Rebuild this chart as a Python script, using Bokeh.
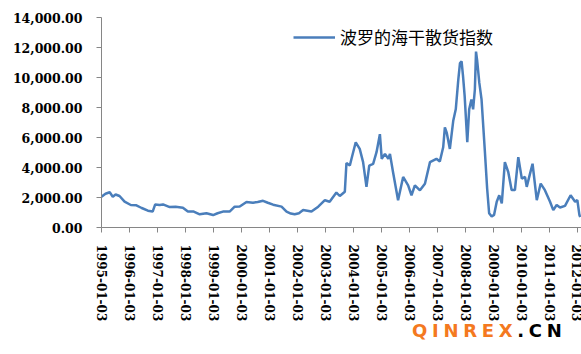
import pandas as pd
from bokeh.plotting import figure
from bokeh.layouts import column
from bokeh.models import (FixedTicker, NumeralTickFormatter, DatetimeTickFormatter,
                          Legend, LegendItem, Range1d, Div)
from bokeh.embed import file_html
from bokeh.resources import INLINE

series_name = "波罗的海干散货指数"

dates = [
    "1995-01-03", "1995-02-24", "1995-04-20", "1995-05-30", "1995-07-06", "1995-08-26",
    "1995-10-31", "1996-01-20", "1996-04-02", "1996-06-10", "1996-08-30", "1996-10-31",
    "1996-12-03", "1997-01-30", "1997-03-15", "1997-06-10", "1997-08-26", "1997-11-29",
    "1998-02-02", "1998-04-20", "1998-07-06", "1998-10-02", "1998-12-28", "1999-02-24",
    "1999-05-05", "1999-07-31", "1999-10-05", "1999-12-10", "2000-03-07", "2000-05-30",
    "2000-07-31", "2000-10-09", "2000-12-10", "2001-02-17", "2001-06-07", "2001-08-11",
    "2001-10-05", "2001-11-25", "2002-01-20", "2002-03-15", "2002-07-02", "2002-09-28",
    "2002-12-24", "2003-02-24", "2003-05-23", "2003-07-06", "2003-09-10", "2003-10-01",
    "2003-11-14", "2003-12-06", "2004-01-30", "2004-03-22", "2004-05-05", "2004-06-18",
    "2004-07-24", "2004-09-13", "2004-10-27", "2004-12-10", "2005-01-03", "2005-02-14",
    "2005-03-30", "2005-04-20", "2005-05-30", "2005-08-04", "2005-10-09", "2005-12-13",
    "2006-01-26", "2006-03-11", "2006-05-16", "2006-07-20", "2006-09-24", "2006-12-17",
    "2007-01-30", "2007-03-15", "2007-04-06", "2007-05-01", "2007-06-10", "2007-07-24",
    "2007-08-26", "2007-09-28", "2007-10-20", "2007-11-10", "2007-11-29", "2007-12-20",
    "2008-01-23", "2008-02-17", "2008-03-17", "2008-04-08", "2008-05-01", "2008-05-16",
    "2008-05-30", "2008-06-28", "2008-07-27", "2008-09-09", "2008-10-08", "2008-11-03",
    "2008-12-06", "2009-01-06", "2009-02-10", "2009-03-15", "2009-04-17", "2009-05-27",
    "2009-07-10", "2009-08-23", "2009-10-05", "2009-11-18", "2010-01-03", "2010-02-14",
    "2010-03-08", "2010-04-20", "2010-05-23", "2010-07-17", "2010-09-06", "2010-10-31",
    "2011-01-06", "2011-02-17", "2011-04-02", "2011-05-16", "2011-07-20", "2011-10-01",
    "2011-11-29", "2011-12-28", "2012-01-24", "2012-02-03",
]
values = [
    2050, 2250, 2350, 2050, 2200, 2100,
    1720, 1500, 1480, 1300, 1120, 1060,
    1540, 1500, 1540, 1360, 1380, 1320,
    1060, 1060, 880, 950, 830, 950,
    1060, 1060, 1390, 1400, 1700, 1650,
    1700, 1780, 1650, 1520, 1390, 1060,
    930, 880, 950, 1160, 1060, 1390,
    1820, 1720, 2330, 2100, 2380, 4300,
    4130, 4580, 5680, 5240, 4360, 2710,
    4130, 4240, 5020, 6220, 4580, 4910,
    4580, 4910, 3700, 1820, 3370, 2810,
    2150, 2810, 2480, 2920, 4360, 4580,
    4400, 5350, 6670, 6300, 5240, 7110,
    7880, 9860, 10960, 11070, 10080, 8760,
    5680, 7880, 8540, 7880, 9200, 11730,
    11180, 9640, 8540, 5020, 2600, 950,
    730, 840, 1720, 2150, 1600, 4360,
    3700, 2500, 2500, 4690, 3260, 3370,
    2710, 3590, 4250, 1820, 2930, 2490,
    1720, 1160, 1500, 1330, 1440, 2150,
    1720, 1830, 830, 700,
]

tick_labels = ["%d-01-03" % y for y in range(1995, 2013)]
y_ticks = [0, 2000, 4000, 6000, 8000, 10000, 12000, 14000]

watermark_main = "QINREX"
watermark_tail = ".CN"

x = pd.to_datetime(dates)
tick_ms = [pd.Timestamp(t).value / 1e6 for t in tick_labels]

p = figure(width=581, height=324, x_axis_type="datetime", output_backend="svg",
           toolbar_location=None,
           x_range=Range1d(pd.Timestamp("1995-01-03"), pd.Timestamp("2012-02-20")),
           y_range=Range1d(0, 14000),
           min_border_left=101, min_border_top=17, min_border_bottom=95,
           min_border_right=0)
p.outline_line_color = None
p.xgrid.visible = False
p.ygrid.visible = False
p.background_fill_color = "white"
p.border_fill_color = "white"

r = p.line(x, values, line_color="#4A7EBB", line_width=2.5)

axis_color = "#868686"
p.yaxis.ticker = FixedTicker(ticks=y_ticks)
p.yaxis.formatter = NumeralTickFormatter(format="0,0.00")
p.yaxis.major_label_text_font = "DejaVu Serif"
p.yaxis.major_label_text_font_style = "bold"
p.yaxis.major_label_text_font_size = "12.5px"
p.yaxis.major_label_text_color = "black"
p.yaxis.major_label_standoff = 14
p.xaxis.ticker = FixedTicker(ticks=tick_ms)
fmt = "%Y-%m-%d"
p.xaxis.formatter = DatetimeTickFormatter(milliseconds=fmt, seconds=fmt, minsec=fmt,
                                          minutes=fmt, hourmin=fmt, hours=fmt,
                                          days=fmt, months=fmt, years=fmt)
p.xaxis.major_label_orientation = "vertical"
p.xaxis.major_label_text_font = "DejaVu Serif"
p.xaxis.major_label_text_font_style = "bold"
p.xaxis.major_label_text_font_size = "12px"
p.xaxis.major_label_text_color = "black"
p.xaxis.major_label_standoff = 12
for ax in (p.xaxis, p.yaxis):
    ax.axis_line_color = axis_color
    ax.major_tick_line_color = axis_color
    ax.minor_tick_line_color = None
    ax.major_tick_out = 5
    ax.major_tick_in = 0

legend = Legend(items=[LegendItem(label=series_name, renderers=[r])],
                location=(192, 178), orientation="horizontal",
                glyph_width=42, glyph_height=20, label_height=20,
                label_standoff=5, padding=0, margin=0, spacing=0,
                label_text_font="Noto Sans CJK SC", label_text_font_size="17px",
                label_text_color="black",
                background_fill_alpha=0, border_line_color=None)
p.add_layout(legend)

wm_html = ('<div style="padding-left:412px;font-family:\'DejaVu Sans\';font-weight:bold;'
           'font-size:18px;line-height:14px;letter-spacing:4.7px;white-space:nowrap;">'
           '<span style="color:#F47920">%s</span><span style="color:#000000">%s</span></div>'
           % (watermark_main, watermark_tail))
wm = Div(text=wm_html, width=581, height=30, margin=0)

layout = column(p, wm, spacing=0)
open("out.html", "w").write(file_html(layout, INLINE))
